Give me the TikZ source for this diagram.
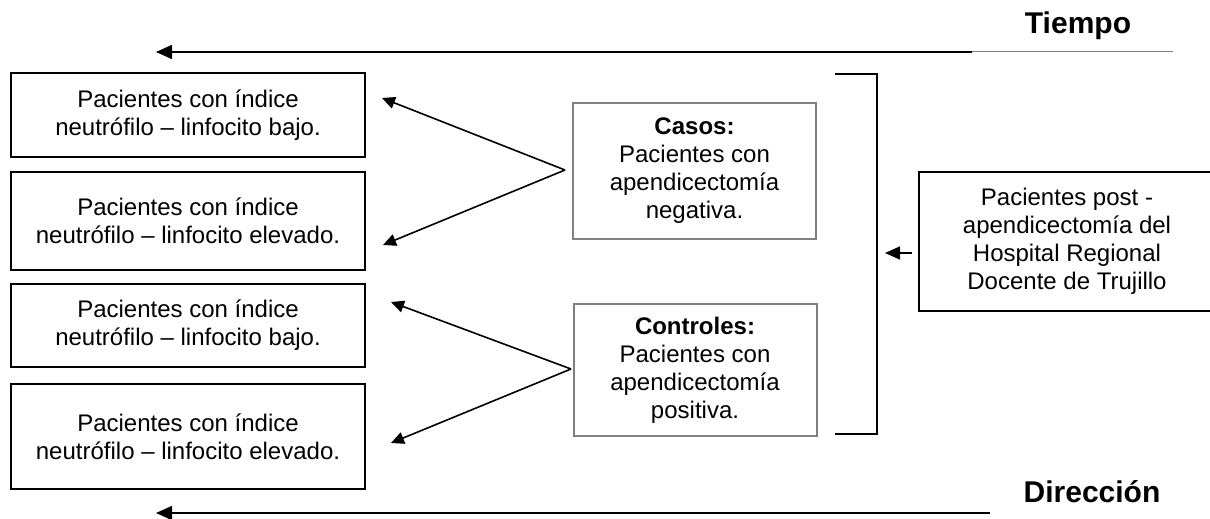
\documentclass[tikz,border=0pt]{standalone}
\usepackage{fontspec}
\setmainfont{Liberation Sans}
\usetikzlibrary{arrows.meta}

\begin{document}
\begin{tikzpicture}[x=1pt, y=-1pt,
        caja/.style={draw, line width=2pt, align=center, inner sep=0pt, minimum width=354pt,
            font=\fontsize{24}{28}\selectfont},
        grupo/.style={draw=gray, line width=2pt, align=center, inner sep=0pt, minimum width=243pt,
            font=\fontsize{24}{28}\selectfont},
        flecha/.style={line width=1.6pt, -{Triangle[length=13pt, width=12pt]}},
        eje/.style={line width=1.6pt, -{Triangle[length=16pt, width=14pt]}},
        titulo/.style={font=\fontsize{30}{36}\selectfont\bfseries}]
            \useasboundingbox (0,0) rectangle (1210,519);
            \node (tiempo) at (1078,26) [titulo] {Tiempo};
            \coordinate (tiempoIni) at (972,52);
            \coordinate (tiempoFin) at (156,52);
            \coordinate (tiempoRaya) at (1173,52);
            \draw[eje] (tiempoIni) -- (tiempoFin);
            \draw[gray, line width=1pt] (tiempoIni) -- (tiempoRaya);
            \node (bajoA) at (188,115) [caja, minimum height=84pt] {Pacientes con índice\\neutrófilo – linfocito bajo.};
            \node (elevadoA) at (188,221) [caja, minimum height=98pt] {Pacientes con índice\\neutrófilo – linfocito elevado.};
            \node (bajoB) at (188,325.5) [caja, minimum height=83pt] {Pacientes con índice\\neutrófilo – linfocito bajo.};
            \node (elevadoB) at (188,436.5) [caja, minimum height=105pt] {Pacientes con índice\\neutrófilo – linfocito elevado.};
            \node (casos) at (694.5,171) [grupo, minimum height=136pt] {\textbf{Casos:}\\Pacientes con\\apendicectomía\\negativa.};
            \node (controles) at (695,370) [grupo, minimum height=132pt] {\textbf{Controles:}\\Pacientes con\\apendicectomía\\positiva.};
            \node (poblacion) at (1067,241.5) [caja, minimum width=296pt, minimum height=139pt] {Pacientes post -\\apendicectomía del\\Hospital Regional\\Docente de Trujillo};
            \coordinate (casosPunto) at (565,170);
            \coordinate (casosArriba) at (382,98);
            \coordinate (casosAbajo) at (383,245);
            \draw[flecha] (casosPunto) -- (casosArriba);
            \draw[flecha] (casosPunto) -- (casosAbajo);
            \coordinate (controlesPunto) at (571,369);
            \coordinate (controlesArriba) at (391,302);
            \coordinate (controlesAbajo) at (391,443);
            \draw[flecha] (controlesPunto) -- (controlesArriba);
            \draw[flecha] (controlesPunto) -- (controlesAbajo);
            \draw[line width=2pt] (835,74) -- (877,74) -- (877,434) -- (835,434);
            \coordinate (llave) at (885,253);
            \draw[line width=1.6pt, -{Triangle[length=15pt, width=13pt]}] (poblacion.west |- llave) ++(-6,0) -- (llave);
            \node (direccion) at (1092,492) [titulo] {Dirección};
            \coordinate (direccionIni) at (990,513);
            \coordinate (direccionFin) at (156,513);
            \draw[eje] (direccionIni) -- (direccionFin);
        \end{tikzpicture}
\end{document}
